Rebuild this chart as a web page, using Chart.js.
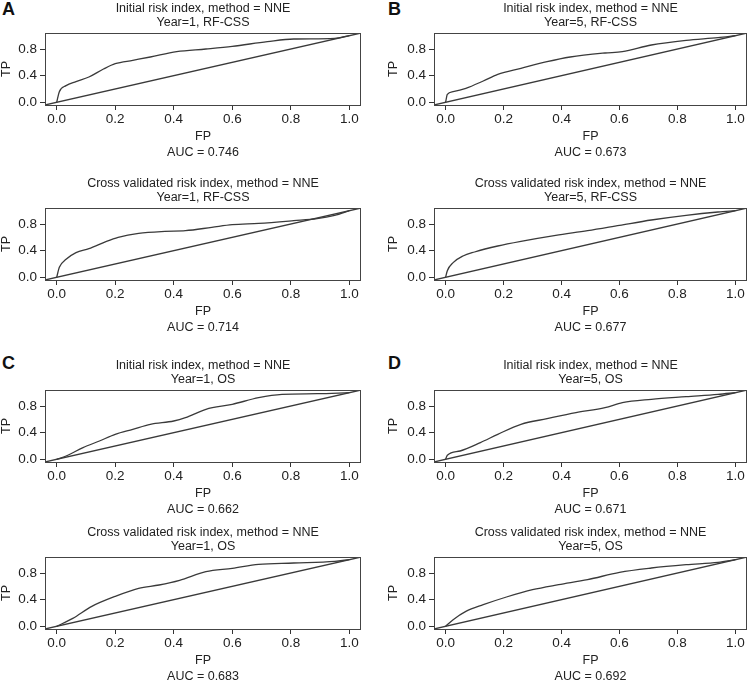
<!DOCTYPE html>
<html>
<head>
<meta charset="utf-8">
<script src="https://cdn.jsdelivr.net/npm/chart.js@4.4.1/dist/chart.umd.min.js"></script>
<style>
  body { margin: 0; background: #fff; }
  #fig { position: relative; width: 748px; height: 682px; overflow: hidden; font-family: "Liberation Sans", Arial, sans-serif; }
  .panel { position: absolute; }
  .letter { position: absolute; font-weight: bold; font-size: 18px; line-height: 18px; color: #111; }
</style>
</head>
<body>
<div id="fig"></div>
<script>
// Axes communs
const xTicks = [0, 0.2, 0.4, 0.6, 0.8, 1.0];
const yTicks = [0, 0.2, 0.4, 0.6, 0.8, 1.0];
const yLabeled = [0, 0.4, 0.8];
const diagFP = [-0.04, 1.04];
const diagTP = [-0.04, 1.04];

// A - RF-CSS, année 1
const fpA1 = [0, 0.009, 0.032, 0.066, 0.11, 0.16, 0.2, 0.26, 0.32, 0.41, 0.51, 0.6, 0.72, 0.81, 0.95, 1];
const tpA1 = [0, 0.16, 0.25, 0.31, 0.38, 0.5, 0.58, 0.63, 0.68, 0.76, 0.8, 0.84, 0.91, 0.95, 0.96, 1];
const fpA2 = [0, 0.009, 0.032, 0.066, 0.11, 0.17, 0.21, 0.28, 0.37, 0.44, 0.53, 0.6, 0.69, 0.81, 0.89, 0.95, 1];
const tpA2 = [0, 0.15, 0.27, 0.37, 0.43, 0.54, 0.6, 0.66, 0.69, 0.7, 0.75, 0.79, 0.81, 0.85, 0.88, 0.93, 1];

// B - RF-CSS, année 5
const fpB1 = [0, 0.006, 0.026, 0.07, 0.13, 0.18, 0.26, 0.35, 0.43, 0.55, 0.61, 0.71, 0.83, 0.94, 1];
const tpB1 = [0, 0.12, 0.16, 0.21, 0.32, 0.42, 0.51, 0.61, 0.68, 0.74, 0.76, 0.86, 0.93, 0.97, 1];
const fpB2 = [0, 0.006, 0.026, 0.06, 0.1, 0.18, 0.26, 0.38, 0.49, 0.6, 0.71, 0.83, 0.94, 1];
const tpB2 = [0, 0.1, 0.22, 0.32, 0.38, 0.47, 0.54, 0.63, 0.7, 0.78, 0.86, 0.93, 0.98, 1];

// C - OS, année 1
const fpC1 = [0, 0.032, 0.09, 0.146, 0.2, 0.26, 0.32, 0.4, 0.44, 0.51, 0.6, 0.69, 0.77, 0.89, 1];
const tpC1 = [0, 0.05, 0.175, 0.275, 0.375, 0.45, 0.525, 0.575, 0.625, 0.75, 0.825, 0.925, 0.975, 0.985, 1];
const fpC2 = [0, 0.055, 0.12, 0.2, 0.28, 0.35, 0.42, 0.51, 0.6, 0.69, 0.81, 0.95, 1];
const tpC2 = [0, 0.12, 0.3, 0.45, 0.57, 0.62, 0.69, 0.82, 0.87, 0.93, 0.95, 0.975, 1];

// D - OS, année 5
const fpD1 = [0, 0.006, 0.05, 0.12, 0.18, 0.26, 0.35, 0.45, 0.55, 0.61, 0.71, 0.83, 0.94, 1];
const tpD1 = [0, 0.06, 0.125, 0.25, 0.375, 0.525, 0.61, 0.7, 0.775, 0.85, 0.9, 0.94, 0.975, 1];
const fpD2 = [0, 0.026, 0.07, 0.13, 0.21, 0.3, 0.39, 0.49, 0.6, 0.71, 0.83, 0.94, 1];
const tpD2 = [0, 0.1, 0.225, 0.325, 0.44, 0.55, 0.625, 0.7, 0.81, 0.875, 0.925, 0.96, 1];

const titleInit = 'Initial risk index, method = NNE';
const titleCross = 'Cross validated risk index, method = NNE';
const aucValues = ['0.746', '0.714', '0.673', '0.677', '0.662', '0.683', '0.671', '0.692'];

const FONT = '"Liberation Sans", Arial, sans-serif';
const TXT = '#222';
const LINE = '#3a3a3a';

// Les 8 panneaux : colonne, ligne, titre, sous-titre, données
const panels = [
    { col: 0, row: 0, title: titleInit,  sub: 'Year=1, RF-CSS', fp: fpA1, tp: tpA1, auc: aucValues[0] },
    { col: 0, row: 1, title: titleCross, sub: 'Year=1, RF-CSS', fp: fpA2, tp: tpA2, auc: aucValues[1] },
    { col: 1, row: 0, title: titleInit,  sub: 'Year=5, RF-CSS', fp: fpB1, tp: tpB1, auc: aucValues[2] },
    { col: 1, row: 1, title: titleCross, sub: 'Year=5, RF-CSS', fp: fpB2, tp: tpB2, auc: aucValues[3] },
    { col: 0, row: 2, title: titleInit,  sub: 'Year=1, OS',     fp: fpC1, tp: tpC1, auc: aucValues[4] },
    { col: 0, row: 3, title: titleCross, sub: 'Year=1, OS',     fp: fpC2, tp: tpC2, auc: aucValues[5] },
    { col: 1, row: 2, title: titleInit,  sub: 'Year=5, OS',     fp: fpD1, tp: tpD1, auc: aucValues[6] },
    { col: 1, row: 3, title: titleCross, sub: 'Year=5, OS',     fp: fpD2, tp: tpD2, auc: aucValues[7] }
];

const rowTops = [0, 175, 357, 524];
const letters = [
    { t: 'A', x: 2, y: 0 }, { t: 'B', x: 388, y: 0 },
    { t: 'C', x: 2, y: 354 }, { t: 'D', x: 388, y: 354 }
];

// Cadre complet autour de la zone du graphique (style R)
const boxPlugin = {
    id: 'box',
    afterDraw(chart) {
        const a = chart.chartArea;
        const ctx = chart.ctx;
        ctx.save();
        ctx.strokeStyle = '#444';
        ctx.lineWidth = 1;
        ctx.strokeRect(Math.round(a.left) + 0.5, Math.round(a.top) + 0.5,
            Math.round(a.right - a.left) - 1, Math.round(a.bottom - a.top));
        ctx.restore();
    }
};

const fig = document.getElementById('fig');

letters.forEach(l => {
    const d = document.createElement('div');
    d.className = 'letter';
    d.textContent = l.t;
    d.style.left = l.x + 'px';
    d.style.top = l.y + 'px';
    fig.appendChild(d);
});

panels.forEach(p => {
    const wrap = document.createElement('div');
    wrap.className = 'panel';
    wrap.style.left = (p.col * 374) + 'px';
    wrap.style.top = rowTops[p.row] + 'px';
    const canvas = document.createElement('canvas');
    canvas.width = 374;
    canvas.height = 161;
    wrap.appendChild(canvas);
    fig.appendChild(wrap);

    new Chart(canvas, {
        type: 'scatter',
        data: {
            datasets: [
                {
                    data: p.fp.map((x, i) => ({ x: x, y: p.tp[i] })),
                    showLine: true,
                    borderColor: LINE,
                    borderWidth: 1.3,
                    pointRadius: 0,
                    cubicInterpolationMode: 'monotone'
                },
                {
                    data: diagFP.map((x, i) => ({ x: x, y: diagTP[i] })),
                    showLine: true,
                    borderColor: LINE,
                    borderWidth: 1.3,
                    pointRadius: 0
                }
            ]
        },
        plugins: [boxPlugin],
        options: {
            responsive: false,
            animation: false,
            layout: { padding: { left: p.col ? 13 : 0, right: p.col ? 1 : 13, top: 0, bottom: 0 } },
            plugins: {
                legend: { display: false },
                tooltip: { enabled: false },
                title: {
                    display: true,
                    text: [p.title, p.sub],
                    fullSize: false,
                    color: TXT,
                    font: { family: FONT, size: 12.5, weight: 'normal', lineHeight: 14 / 12.5 },
                    padding: { top: 2, bottom: 3 }
                }
            },
            scales: {
                x: {
                    type: 'linear',
                    min: -0.04,
                    max: 1.04,
                    afterBuildTicks: axis => { axis.ticks = xTicks.map(v => ({ value: v })); },
                    afterFit: axis => { axis.height = 56; },
                    border: { display: false },
                    grid: { drawOnChartArea: false, drawTicks: true, tickLength: 5, tickColor: '#333' },
                    ticks: {
                        color: TXT,
                        padding: 1,
                        maxRotation: 0,
                        font: { family: FONT, size: 13.5 },
                        callback: v => v.toFixed(1)
                    },
                    title: {
                        display: true,
                        text: ['FP', 'AUC = ' + p.auc],
                        color: TXT,
                        font: { family: FONT, size: 12.5, lineHeight: 16 / 12.5 },
                        padding: { top: 0, bottom: 0 }
                    }
                },
                y: {
                    type: 'linear',
                    min: -0.04,
                    max: 1.04,
                    afterBuildTicks: axis => { axis.ticks = yTicks.map(v => ({ value: v })); },
                    afterFit: axis => { axis.width = p.col ? 47 : 45; },
                    border: { display: false },
                    grid: { drawOnChartArea: false, drawTicks: true, tickLength: 5, tickColor: '#333' },
                    ticks: {
                        color: TXT,
                        padding: 3,
                        font: { family: FONT, size: 13.5 },
                        callback: v => yLabeled.some(t => Math.abs(t - v) < 1e-9) ? v.toFixed(1) : ''
                    },
                    title: {
                        display: true,
                        text: 'TP',
                        color: TXT,
                        font: { family: FONT, size: 12.5, lineHeight: 14 / 12.5 },
                        padding: { top: 0, bottom: 0 }
                    }
                }
            }
        }
    });
});
</script>
</body>
</html>
